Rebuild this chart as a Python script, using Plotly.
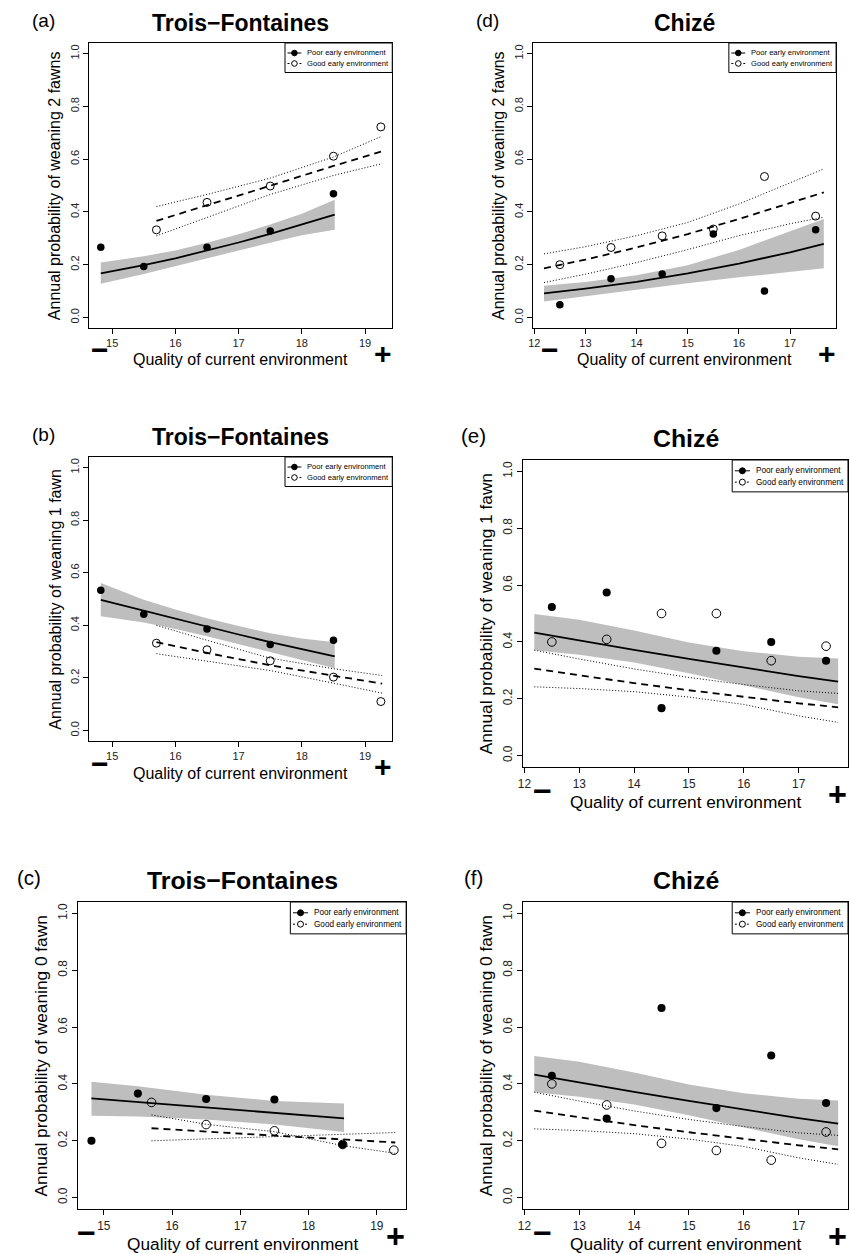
import plotly.graph_objects as go

W, H = 849, 1254
FONT = "Liberation Sans, Arial, Helvetica, sans-serif"

# ---------------- data ----------------
# Trois-Fontaines observed points
tf_poor_x = [14.82, 15.5, 16.5, 17.5, 18.5]
tf_good_x = [15.7, 16.5, 17.5, 18.5, 19.25]
tf_fit_poor_x = [14.82, 15.5, 16.0, 16.5, 17.0, 17.5, 18.0, 18.52]
tf_fit_good_x = [15.7, 16.5, 17.5, 18.5, 19.27]

# (a) weaning 2 fawns
a_poor_y = [0.266, 0.193, 0.266, 0.328, 0.469]
a_good_y = [0.332, 0.436, 0.498, 0.611, 0.722]
a_fit_poor = [0.167, 0.198, 0.224, 0.253, 0.284, 0.317, 0.352, 0.390]
a_fit_poor_hi = [0.208, 0.232, 0.254, 0.283, 0.315, 0.352, 0.393, 0.446]
a_fit_poor_lo = [0.128, 0.165, 0.193, 0.223, 0.254, 0.283, 0.311, 0.332]
a_fit_good = [0.366, 0.424, 0.499, 0.574, 0.630]
a_fit_good_hi = [0.420, 0.466, 0.528, 0.608, 0.687]
a_fit_good_lo = [0.309, 0.380, 0.466, 0.538, 0.583]

# (b) weaning 1 fawn
b_poor_y = [0.533, 0.442, 0.386, 0.327, 0.343]
b_good_y = [0.332, 0.307, 0.265, 0.203, 0.110]
b_fit_poor = [0.497, 0.455, 0.424, 0.394, 0.365, 0.336, 0.309, 0.282]
b_fit_poor_hi = [0.561, 0.497, 0.460, 0.427, 0.397, 0.370, 0.350, 0.336]
b_fit_poor_lo = [0.434, 0.411, 0.386, 0.358, 0.330, 0.300, 0.268, 0.237]
b_fit_good = [0.336, 0.295, 0.248, 0.207, 0.178]
b_fit_good_hi = [0.400, 0.343, 0.275, 0.235, 0.209]
b_fit_good_lo = [0.292, 0.263, 0.228, 0.180, 0.142]

# (c) weaning 0 fawn
c_poor_y = [0.200, 0.366, 0.347, 0.345, 0.187]
c_good_y = [0.335, 0.257, 0.235, 0.187, 0.167]
c_fit_poor_x = [14.82, 15.5, 16.5, 17.5, 18.52]
c_fit_poor = [0.349, 0.336, 0.317, 0.298, 0.279]
c_fit_poor_hi = [0.408, 0.392, 0.362, 0.340, 0.331]
c_fit_poor_lo = [0.288, 0.285, 0.275, 0.257, 0.231]
c_fit_good = [0.244, 0.232, 0.218, 0.205, 0.194]
c_fit_good_hi = [0.291, 0.258, 0.232, 0.183, 0.156]
c_fit_good_lo = [0.200, 0.206, 0.214, 0.222, 0.229]

# Chizé observed points
ch_x = [12.5, 13.5, 14.5, 15.5, 16.5, 17.5]

# (d) weaning 2 fawns
d_poor_y = [0.048, 0.147, 0.165, 0.316, 0.100, 0.332]
d_good_y = [0.200, 0.265, 0.309, 0.335, 0.534, 0.384]
d_fit_x = [12.19, 13.0, 14.0, 15.0, 16.0, 17.0, 17.66]
d_fit_poor = [0.091, 0.109, 0.135, 0.167, 0.204, 0.247, 0.279]
d_fit_poor_hi = [0.120, 0.134, 0.160, 0.198, 0.256, 0.328, 0.373]
d_fit_poor_lo = [0.060, 0.080, 0.105, 0.130, 0.152, 0.173, 0.186]
d_fit_good = [0.186, 0.219, 0.265, 0.316, 0.373, 0.433, 0.474]
d_fit_good_hi = [0.241, 0.268, 0.310, 0.360, 0.430, 0.510, 0.563]
d_fit_good_lo = [0.132, 0.164, 0.208, 0.257, 0.310, 0.355, 0.380]

# (e) weaning 1 fawn and (f) weaning 0 fawn share the same fitted curves
ef_fit_x = [12.18, 13.0, 14.0, 15.0, 16.0, 17.0, 17.72]
ef_fit_poor = [0.433, 0.405, 0.372, 0.340, 0.309, 0.280, 0.260]
ef_fit_poor_hi = [0.498, 0.478, 0.440, 0.398, 0.367, 0.348, 0.342]
ef_fit_poor_lo = [0.371, 0.355, 0.328, 0.290, 0.248, 0.205, 0.181]
ef_fit_good = [0.306, 0.282, 0.255, 0.230, 0.206, 0.184, 0.170]
ef_fit_good_hi = [0.371, 0.340, 0.305, 0.275, 0.250, 0.228, 0.219]
ef_fit_good_lo = [0.242, 0.236, 0.225, 0.206, 0.180, 0.140, 0.117]

e_poor_y = [0.523, 0.574, 0.167, 0.369, 0.400, 0.334]
e_good_y = [0.400, 0.409, 0.500, 0.500, 0.334, 0.385]
f_poor_y = [0.429, 0.278, 0.667, 0.315, 0.500, 0.333]
f_good_y = [0.400, 0.326, 0.191, 0.166, 0.132, 0.231]

tf_ticks = [15, 16, 17, 18, 19]
ch_ticks = [12, 13, 14, 15, 16, 17]
y_ticks = [0.0, 0.2, 0.4, 0.6, 0.8, 1.0]
y_ticktext = ["0.0", "0.2", "0.4", "0.6", "0.8", "1.0"]

legend_labels = ["Poor early environment", "Good early environment"]
x_title = "Quality of current environment"

panels = [
    dict(lab="(a)", title="Trois\u2212Fontaines", ylab="Annual probability of weaning 2 fawns",
         box=(84, 389, 43, 328), xr=[14.64, 19.43], ticks=tf_ticks, s=1.0, mdx=11,
         px=tf_poor_x, py=a_poor_y, gx=tf_good_x, gy=a_good_y,
         fpx=tf_fit_poor_x, fp=a_fit_poor, fph=a_fit_poor_hi, fpl=a_fit_poor_lo,
         fgx=tf_fit_good_x, fg=a_fit_good, fgh=a_fit_good_hi, fgl=a_fit_good_lo),
    dict(lab="(d)", title="Chiz\u00e9", ylab="Annual probability of weaning 2 fawns",
         box=(531, 836, 43, 328), xr=[11.98, 17.9], ticks=ch_ticks, s=1.0, mdx=17,
         px=ch_x, py=d_poor_y, gx=ch_x, gy=d_good_y,
         fpx=d_fit_x, fp=d_fit_poor, fph=d_fit_poor_hi, fpl=d_fit_poor_lo,
         fgx=d_fit_x, fg=d_fit_good, fgh=d_fit_good_hi, fgl=d_fit_good_lo),
    dict(lab="(b)", title="Trois\u2212Fontaines", ylab="Annual probability of weaning 1 fawn",
         box=(84, 389, 457, 741), xr=[14.64, 19.43], ticks=tf_ticks, s=1.0, mdx=11,
         px=tf_poor_x, py=b_poor_y, gx=tf_good_x, gy=b_good_y,
         fpx=tf_fit_poor_x, fp=b_fit_poor, fph=b_fit_poor_hi, fpl=b_fit_poor_lo,
         fgx=tf_fit_good_x, fg=b_fit_good, fgh=b_fit_good_hi, fgl=b_fit_good_lo),
    dict(lab="(e)", title="Chiz\u00e9", ylab="Annual probability of weaning 1 fawn",
         box=(521, 848, 460, 767), xr=[11.98, 17.9], ticks=ch_ticks, s=1.08, mdx=17.5,
         px=ch_x, py=e_poor_y, gx=ch_x, gy=e_good_y,
         fpx=ef_fit_x, fp=ef_fit_poor, fph=ef_fit_poor_hi, fpl=ef_fit_poor_lo,
         fgx=ef_fit_x, fg=ef_fit_good, fgh=ef_fit_good_hi, fgl=ef_fit_good_lo),
    dict(lab="(c)", title="Trois\u2212Fontaines", ylab="Annual probability of weaning 0 fawn",
         box=(73, 403, 902, 1209), xr=[14.63, 19.43], ticks=tf_ticks, s=1.08, mdx=7.5,
         px=tf_poor_x, py=c_poor_y, gx=tf_good_x, gy=c_good_y,
         fpx=c_fit_poor_x, fp=c_fit_poor, fph=c_fit_poor_hi, fpl=c_fit_poor_lo,
         fgx=tf_fit_good_x, fg=c_fit_good, fgh=c_fit_good_hi, fgl=c_fit_good_lo),
    dict(lab="(f)", title="Chiz\u00e9", ylab="Annual probability of weaning 0 fawn",
         box=(521, 848, 902, 1209), xr=[11.98, 17.9], ticks=ch_ticks, s=1.08, mdx=17.5,
         px=ch_x, py=f_poor_y, gx=ch_x, gy=f_good_y,
         fpx=ef_fit_x, fp=ef_fit_poor, fph=ef_fit_poor_hi, fpl=ef_fit_poor_lo,
         fgx=ef_fit_x, fg=ef_fit_good, fgh=ef_fit_good_hi, fgl=ef_fit_good_lo),
]


def fx(p):
    return p / W


def fy(p):
    return 1 - p / H


fig = go.Figure()
annotations = []
shapes = []
layout = {}


def ann(x, y, text, size, bold=False, angle=0, xanchor="center"):
    annotations.append(dict(
        x=fx(x), y=fy(y), xref="paper", yref="paper", showarrow=False,
        text=f"<b>{text}</b>" if bold else text, textangle=angle,
        xanchor=xanchor, yanchor="middle",
        font=dict(family=FONT, size=size, color="black")))


for i, P in enumerate(panels, start=1):
    xa = "x" if i == 1 else f"x{i}"
    ya = "y" if i == 1 else f"y{i}"
    l, r, t, b = P["box"]
    s = P["s"]

    # confidence band of poor group
    fig.add_trace(go.Scatter(
        x=P["fpx"] + P["fpx"][::-1], y=P["fph"] + P["fpl"][::-1],
        fill="toself", fillcolor="#bebebe", line=dict(width=0), mode="lines",
        hoverinfo="skip", showlegend=False, xaxis=xa, yaxis=ya))
    # good CI dotted lines
    for arr in (P["fgh"], P["fgl"]):
        fig.add_trace(go.Scatter(
            x=P["fgx"], y=arr, mode="lines",
            line=dict(color="black", width=1, dash="1px,2px"),
            showlegend=False, xaxis=xa, yaxis=ya))
    # fitted lines
    fig.add_trace(go.Scatter(x=P["fpx"], y=P["fp"], mode="lines",
                             line=dict(color="black", width=1.8), showlegend=False,
                             xaxis=xa, yaxis=ya))
    fig.add_trace(go.Scatter(x=P["fgx"], y=P["fg"], mode="lines",
                             line=dict(color="black", width=1.8, dash="7px,5px"),
                             showlegend=False, xaxis=xa, yaxis=ya))
    # observed points
    fig.add_trace(go.Scatter(x=P["px"], y=P["py"], mode="markers",
                             marker=dict(symbol="circle", size=7.5 * s, color="black"),
                             showlegend=False, xaxis=xa, yaxis=ya))
    fig.add_trace(go.Scatter(x=P["gx"], y=P["gy"], mode="markers",
                             marker=dict(symbol="circle-open", size=8 * s, color="black",
                                         line=dict(width=1, color="black")),
                             showlegend=False, xaxis=xa, yaxis=ya))

    axis_common = dict(showline=True, linecolor="black", linewidth=1, mirror=True,
                       ticks="outside", ticklen=5 * s, tickwidth=1, tickcolor="black",
                       showgrid=False, zeroline=False,
                       tickfont=dict(family=FONT, size=11 * s, color="#222"))
    layout["xaxis" if i == 1 else f"xaxis{i}"] = dict(
        domain=[fx(l), fx(r)], range=P["xr"], anchor=ya, tickvals=P["ticks"],
        **axis_common)
    layout["yaxis" if i == 1 else f"yaxis{i}"] = dict(
        domain=[fy(b), fy(t)], range=[-0.04, 1.04], anchor=xa, tickvals=y_ticks,
        ticktext=y_ticktext, tickangle=-90, **axis_common)

    cx = (l + r) / 2
    cy = (t + b) / 2

    ann(cx, t - 19.5 * s, P["title"], 23 * s, bold=True)
    ann(l - 46 * s, t - 23 * s, P["lab"], 19 * s)
    ann(l - 35 * s, cy, P["ylab"], 16 * s, angle=-90)
    ann(cx, b + 32 * s, x_title, 16 * s)
    ann(l + P["mdx"] * s, b + 22 * s, "\u2212", 30 * s, bold=True)
    ann(r - 9.5 * s, b + 25.5 * s, "+", 30 * s, bold=True)

    # legend box (top-right, R style)
    lw, lh = 108 * s, 29.5 * s
    lx0 = r - lw
    shapes.append(dict(type="rect", xref="paper", yref="paper",
                       x0=fx(lx0), x1=fx(r), y0=fy(t + lh), y1=fy(t),
                       line=dict(color="black", width=1), fillcolor="white", layer="above"))
    for k, lbl in enumerate(legend_labels):
        ry = t + (10 + 10.5 * k) * s
        mx = lx0 + 9.5 * s
        shapes.append(dict(type="line", xref="paper", yref="paper",
                           x0=fx(lx0 + 2.5 * s), x1=fx(lx0 + 16.5 * s), y0=fy(ry), y1=fy(ry),
                           line=dict(color="black", width=1,
                                     dash="solid" if k == 0 else "2px,2px"),
                           layer="above"))
        rad = 2.8 * s
        shapes.append(dict(type="circle", xref="paper", yref="paper",
                           x0=fx(mx - rad), x1=fx(mx + rad), y0=fy(ry + rad), y1=fy(ry - rad),
                           line=dict(color="black", width=1),
                           fillcolor="black" if k == 0 else "white", layer="above"))
        ann(lx0 + 20 * s, ry, lbl, 7.6 * s, xanchor="left")

fig.update_layout(
    width=W, height=H, autosize=False,
    margin=dict(l=0, r=0, t=0, b=0, pad=0),
    paper_bgcolor="white", plot_bgcolor="white",
    showlegend=False,
    annotations=annotations, shapes=shapes,
    font=dict(family=FONT, color="black"),
    **layout)

fig.write_html("out.html", config={"displayModeBar": False},
               post_script="document.body.style.margin='0';")
